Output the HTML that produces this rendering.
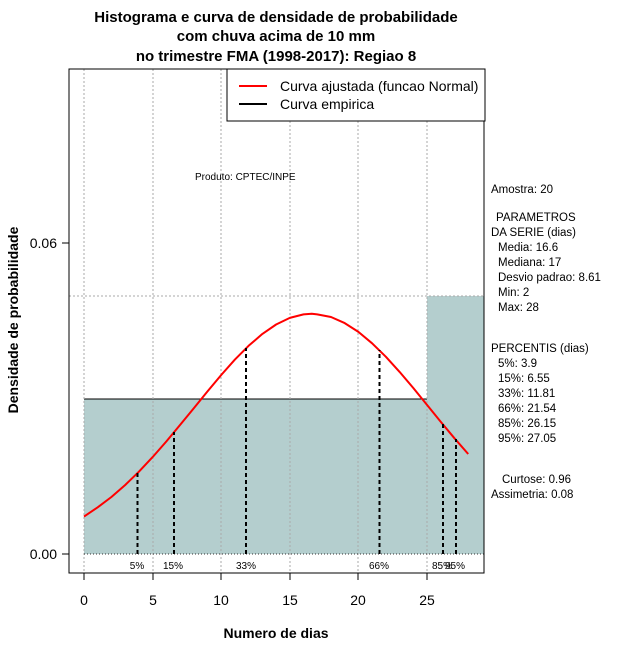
<!DOCTYPE html>
<html><head><meta charset="utf-8"><style>body{margin:0;background:#fff}svg{display:block}</style></head><body>
<svg width="640" height="660" xmlns="http://www.w3.org/2000/svg" font-family="Liberation Sans, sans-serif">
<rect width="640" height="660" fill="#fff"/>
<g font-weight="bold" font-size="15" text-anchor="middle">
<text x="276" y="22">Histograma e curva de densidade de probabilidade</text>
<text x="276" y="41">com chuva acima de 10 mm</text>
<text x="276" y="61">no trimestre FMA (1998-2017): Regiao 8</text>
</g>
<rect x="84" y="399" width="343" height="155" fill="#b4cece"/>
<rect x="427" y="296" width="57" height="258" fill="#b4cece"/>
<line x1="84" y1="399" x2="427" y2="399" stroke="#000"/>
<g stroke="#aaa" stroke-dasharray="2,2">
<line x1="84" y1="69" x2="84" y2="573"/><line x1="153" y1="69" x2="153" y2="573"/>
<line x1="221" y1="69" x2="221" y2="573"/><line x1="290" y1="69" x2="290" y2="573"/>
<line x1="358" y1="69" x2="358" y2="573"/><line x1="427" y1="69" x2="427" y2="573"/>
<line x1="69" y1="296" x2="484" y2="296"/>
</g>
<line x1="84" y1="554" x2="484" y2="554" stroke="#333" stroke-dasharray="1,2"/>
<polyline fill="none" stroke="#f00" stroke-width="2" stroke-linejoin="round" points="84.0,516.6 97.7,507.3 111.4,497.0 125.2,485.0 138.9,471.7 152.6,457.1 166.3,441.5 180.0,425.0 193.8,408.2 207.5,391.4 221.2,375.0 234.9,359.6 248.6,345.8 262.4,333.9 276.1,324.5 289.8,317.9 303.5,314.4 311.8,313.8 317.2,314.4 331.0,317.0 344.7,323.1 358.4,331.9 372.1,343.3 385.8,356.7 399.6,371.9 413.3,388.0 427.0,404.9 440.7,421.7 454.4,438.2 468.2,454.0"/>
<g stroke="#000" stroke-width="2" stroke-dasharray="4,3">
<line x1="137.5" y1="554" x2="137.5" y2="473"/>
<line x1="174" y1="554" x2="174" y2="432"/>
<line x1="246" y1="554" x2="246" y2="348"/>
<line x1="379.5" y1="554" x2="379.5" y2="350"/>
<line x1="443" y1="554" x2="443" y2="424"/>
<line x1="456" y1="554" x2="456" y2="439"/>
</g>
<g font-size="10" text-anchor="middle">
<text x="137" y="569">5%</text><text x="173" y="569">15%</text><text x="246" y="569">33%</text>
<text x="379" y="569">66%</text><text x="442" y="569">85%</text><text x="455" y="569">95%</text>
</g>
<rect x="69" y="69" width="415" height="504" fill="none" stroke="#000"/>
<rect x="227" y="69" width="258" height="52" fill="#fff" stroke="#000"/>
<line x1="239" y1="86" x2="267" y2="86" stroke="#f00" stroke-width="2"/>
<line x1="239" y1="104" x2="267" y2="104" stroke="#000" stroke-width="2"/>
<text x="280" y="91" font-size="14">Curva ajustada (funcao Normal)</text>
<text x="280" y="109" font-size="14">Curva empirica</text>
<text x="195" y="180" font-size="10">Produto: CPTEC/INPE</text>
<g stroke="#000">
<line x1="84" y1="573" x2="427" y2="573"/>
<line x1="84" y1="573" x2="84" y2="580"/><line x1="153" y1="573" x2="153" y2="580"/>
<line x1="221" y1="573" x2="221" y2="580"/><line x1="290" y1="573" x2="290" y2="580"/>
<line x1="358" y1="573" x2="358" y2="580"/><line x1="427" y1="573" x2="427" y2="580"/>
<line x1="69" y1="243" x2="69" y2="554"/>
<line x1="62" y1="243" x2="69" y2="243"/><line x1="62" y1="554" x2="69" y2="554"/>
</g>
<g font-size="14" text-anchor="middle">
<text x="84" y="605">0</text><text x="153" y="605">5</text><text x="221" y="605">10</text>
<text x="290" y="605">15</text><text x="358" y="605">20</text><text x="427" y="605">25</text>
<text x="57" y="248" text-anchor="end">0.06</text><text x="57" y="559" text-anchor="end">0.00</text>
</g>
<text x="276" y="638" font-size="14" font-weight="bold" text-anchor="middle">Numero de dias</text>
<text transform="translate(18,320) rotate(-90)" font-size="14" font-weight="bold" text-anchor="middle">Densidade de probabilidade</text>
<g font-size="11.5">
<text x="491" y="193">Amostra: 20</text>
<text x="496" y="221">PARAMETROS</text>
<text x="491" y="236">DA SERIE (dias)</text>
<text x="498" y="251">Media: 16.6</text>
<text x="498" y="266">Mediana: 17</text>
<text x="498" y="281">Desvio padrao: 8.61</text>
<text x="498" y="296">Min: 2</text>
<text x="498" y="311">Max: 28</text>
<text x="491" y="352">PERCENTIS (dias)</text>
<text x="498" y="367">5%: 3.9</text>
<text x="498" y="382">15%: 6.55</text>
<text x="498" y="397">33%: 11.81</text>
<text x="498" y="412">66%: 21.54</text>
<text x="498" y="427">85%: 26.15</text>
<text x="498" y="442">95%: 27.05</text>
<text x="502" y="483">Curtose: 0.96</text>
<text x="491" y="498">Assimetria: 0.08</text>
</g>
</svg>
</body></html>
